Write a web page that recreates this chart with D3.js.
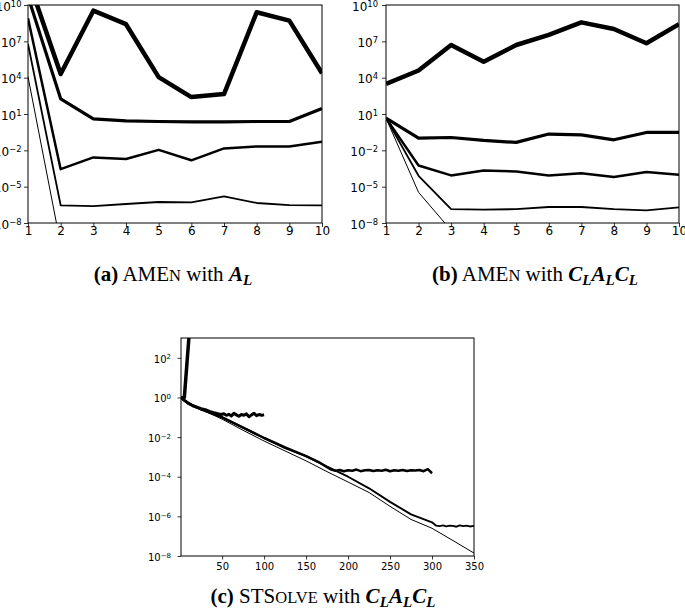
<!DOCTYPE html>
<html><head><meta charset="utf-8">
<script src="https://cdn.jsdelivr.net/npm/d3@7"></script>
<style>body{margin:0;background:#fff}svg{display:block}</style>
</head><body>
<svg id="chart" width="685" height="615"></svg>
<script>
// ---------- DATA ----------
const amenIters = [1, 2, 3, 4, 5, 6, 7, 8, 9, 10];
// (a) AMEn with A_L  (thickest -> thinnest)
const aRank1 = [1.5e12, 2.0e4, 3.4e9, 2.6e8, 1.1e4, 2.5e2, 4.4e2, 2.5e9, 5.1e8, 2.3e4];
const aRank2 = [5e10, 1.8e2, 4.0, 2.75, 2.4, 2.25, 2.25, 2.4, 2.4, 28];
const aRank3 = [8e8, 2.8e-4, 2.6e-3, 1.9e-3, 1.1e-2, 1.5e-3, 1.45e-2, 2.1e-2, 2.1e-2, 5.1e-2];
const aRank4 = [6e6, 2.9e-7, 2.5e-7, 3.7e-7, 5.4e-7, 5.0e-7, 1.6e-6, 4.5e-7, 3.0e-7, 2.9e-7];
const aRank5 = [1.2e4, 1.6e-10, 1e-11, 1e-11, 1e-11, 1e-11, 1e-11, 1e-11, 1e-11, 1e-11];
// (b) AMEn with C_L A_L C_L
const bRank1 = [3.1e3, 3.9e4, 5.0e6, 2.1e5, 5.0e6, 3.4e7, 3.7e8, 1.05e8, 6.9e6, 2.6e8];
const bRank2 = [4.6, 0.10, 0.115, 0.066, 0.045, 0.22, 0.19, 0.074, 0.30, 0.30];
const bRank3 = [4.6, 5.6e-4, 8.5e-5, 2.2e-4, 1.8e-4, 8.5e-5, 1.3e-4, 6.2e-5, 1.6e-4, 9.5e-5];
const bRank4 = [4.6, 7.9e-5, 1.4e-7, 1.26e-7, 1.4e-7, 2.1e-7, 2.1e-7, 1.4e-7, 1.1e-7, 1.95e-7];
const bRank5 = [4.6, 3.4e-6, 2.5e-9, 2e-9, 2e-9, 2e-9, 2e-9, 2e-9, 2e-9, 2e-9];
// (c) STSolve with C_L A_L C_L
const cIters1 = [1, 3, 5, 12];
const cRank1 = [1.0, 0.95, 1.0, 8e3];
const cIters2 = [1, 5, 10, 15, 20, 25, 30, 35, 40, 43, 46, 49, 52, 55, 58, 61, 64, 67, 70, 73, 76, 79, 82, 85, 88, 91, 94, 97, 100];
const cRank2 = [1.0, 0.71, 0.50, 0.38, 0.32, 0.27, 0.24, 0.20, 0.17, 0.16, 0.145, 0.138, 0.15, 0.126, 0.141, 0.117, 0.158, 0.132, 0.112, 0.138, 0.126, 0.148, 0.107, 0.132, 0.158, 0.12, 0.138, 0.126, 0.132];
const cIters3 = [1, 10, 25, 50, 75, 100, 125, 150, 165, 175, 180, 185, 190, 195, 200, 205, 210, 215, 220, 225, 230, 235, 240, 245, 250, 255, 260, 265, 270, 275, 280, 285, 290, 295, 300];
const cRank3 = [1.0, 0.5, 0.25, 0.1, 0.03, 9e-3, 3e-3, 1.1e-3, 5.5e-4, 3e-4, 2.3e-4, 2.0e-4, 2.2e-4, 1.9e-4, 2.1e-4, 2.0e-4, 2.3e-4, 1.9e-4, 2.1e-4, 2.2e-4, 1.95e-4, 2.1e-4, 2.0e-4, 2.25e-4, 1.9e-4, 2.1e-4, 2.0e-4, 2.2e-4, 1.95e-4, 2.1e-4, 2.05e-4, 2.2e-4, 1.9e-4, 2.4e-4, 1.5e-4];
const cIters4 = [1, 10, 25, 50, 75, 100, 125, 150, 175, 200, 225, 250, 275, 300, 305, 309, 313, 317, 321, 325, 329, 333, 337, 341, 345, 350];
const cRank4 = [1.0, 0.5, 0.25, 0.1, 0.03, 9e-3, 2.8e-3, 1.1e-3, 3.2e-4, 1e-4, 2.6e-5, 5.4e-6, 1.26e-6, 5e-7, 3.4e-7, 3.2e-7, 3.5e-7, 3.1e-7, 3.4e-7, 3.3e-7, 3.0e-7, 3.5e-7, 3.2e-7, 3.4e-7, 3.1e-7, 3.3e-7];
const cIters5 = [1, 10, 25, 50, 75, 100, 125, 150, 175, 200, 225, 250, 275, 300, 325, 350];
const cRank5 = [1.0, 0.5, 0.25, 0.08, 0.022, 6.3e-3, 2e-3, 6.3e-4, 1.8e-4, 5.4e-5, 1.6e-5, 3.2e-6, 7e-7, 2.5e-7, 6e-8, 1.4e-8];
const amenTicksY = [1e10, 1e7, 1e4, 1e1, 1e-2, 1e-5, 1e-8];
const stsTicksY = [1e2, 1e0, 1e-2, 1e-4, 1e-6, 1e-8];
const stsTicksX = [50, 100, 150, 200, 250, 300, 350];

// ---------- DRAW ----------
const svg = d3.select("#chart");
const lineWidths = [4.5, 3.2, 2.5, 1.8, 1.0];
const cWidths = [3.5, 3.0, 2.5, 1.9, 1.0];

function supLabel(sel, fs) {
  sel.each(function(d) {
    const t = d3.select(this);
    const e = Math.round(Math.log10(d));
    t.text(null);
    t.append("tspan").text("10");
    t.append("tspan").attr("dy", "-0.45em").attr("font-size", (fs * 0.7) + "px")
      .text(e < 0 ? "\u2212" + (-e) : String(e));
  });
}

function panel(cfg, id) {
  const x = d3.scaleLinear().domain(cfg.xDomain).range([cfg.left, cfg.right]);
  const y = d3.scaleLog().domain(cfg.yDomain).range([cfg.bottom, cfg.top]);
  svg.append("clipPath").attr("id", id).append("rect")
    .attr("x", cfg.left).attr("y", cfg.top)
    .attr("width", cfg.right - cfg.left).attr("height", cfg.bottom - cfg.top);
  const g = svg.append("g").attr("clip-path", `url(#${id})`);
  const line = d3.line().x(d => x(d[0])).y(d => y(d[1]));
  cfg.series.forEach((s, i) => {
    g.append("path").attr("d", line(s.xs.map((v, k) => [v, s.ys[k]])))
      .attr("fill", "none").attr("stroke", "#000").attr("stroke-width", s.w)
      .attr("stroke-linejoin", "round").attr("stroke-linecap", "butt");
  });
  // axes
  const ax = svg.append("g").attr("transform", `translate(0,${cfg.bottom})`)
    .call(d3.axisBottom(x).tickValues(cfg.xTicks).tickSize(cfg.tick).tickFormat(d3.format("d")));
  ax.select(".domain").remove();
  ax.selectAll("text").attr("y", cfg.xLabY).attr("dy", null)
    .attr("font-family", "DejaVu Sans").attr("font-size", cfg.fs + "px").attr("fill", "#000");
  ax.selectAll("line").attr("stroke", "#000").attr("stroke-width", 0.8);
  const ay = svg.append("g").attr("transform", `translate(${cfg.left},0)`)
    .call(d3.axisLeft(y).tickValues(cfg.yTicks).tickSize(cfg.tick).tickPadding(cfg.yPad));
  ay.select(".domain").remove();
  ay.selectAll("line").attr("stroke", "#000").attr("stroke-width", 0.8);
  ay.selectAll("text").attr("dy", "0.42em")
    .attr("font-family", "DejaVu Sans").attr("font-size", cfg.fs + "px").attr("fill", "#000")
    .call(supLabel, cfg.fs);
  svg.append("rect").attr("x", cfg.left).attr("y", cfg.top)
    .attr("width", cfg.right - cfg.left).attr("height", cfg.bottom - cfg.top)
    .attr("fill", "none").attr("stroke", "#000").attr("stroke-width", 1);
}

const aSeries = [aRank1, aRank2, aRank3, aRank4, aRank5].map((ys, i) => ({xs: amenIters, ys, w: lineWidths[i]}));
const bSeries = [bRank1, bRank2, bRank3, bRank4, bRank5].map((ys, i) => ({xs: amenIters, ys, w: lineWidths[i]}));
const cSeries = [[cIters1, cRank1], [cIters2, cRank2], [cIters3, cRank3], [cIters4, cRank4], [cIters5, cRank5]]
  .map((p, i) => ({xs: p[0], ys: p[1], w: cWidths[i]}));

panel({left: 28, right: 322, top: 5, bottom: 223, xDomain: [1, 10], yDomain: [1e-8, 1e10],
  xTicks: amenIters, yTicks: amenTicksY, tick: 4, yPad: 2.5, fs: 12, xLabY: 12, series: aSeries}, "clipA");
panel({left: 386, right: 679, top: 5, bottom: 223, xDomain: [1, 10], yDomain: [1e-8, 1e10],
  xTicks: amenIters, yTicks: amenTicksY, tick: 4, yPad: 4, fs: 12, xLabY: 12, series: bSeries}, "clipB");
panel({left: 181, right: 474, top: 338, bottom: 556, xDomain: [1, 350], yDomain: [1e-8, 1e3],
  xTicks: stsTicksX, yTicks: stsTicksY, tick: 3.5, yPad: 6.5, fs: 10, xLabY: 14, series: cSeries}, "clipC");

// ---------- CAPTIONS ----------
function caption(cx, cy, label, word, smallPart, capsPart, mathParts) {
  const t = svg.append("text").attr("x", cx).attr("y", cy).attr("text-anchor", "middle")
    .attr("font-family", "Liberation Serif, Times New Roman, serif").attr("font-size", "21px").attr("fill", "#000");
  t.append("tspan").attr("font-weight", "bold").text("(" + label + ")");
  t.append("tspan").text(" " + capsPart);
  t.append("tspan").attr("font-size", "16.5px").text(smallPart);
  t.append("tspan").text(" with ");
  mathParts.forEach(m => {
    t.append("tspan").attr("font-weight", "bold").attr("font-style", "italic").text(m);
    t.append("tspan").attr("font-weight", "bold").attr("font-style", "italic")
      .attr("font-size", "15px").attr("dy", 4).text("L");
    t.append("tspan").attr("font-size", "1px").attr("dy", -4).text("\u200a");
  });
}
caption(173, 281, "a", "", "N", "AME", ["A"]);
caption(535, 281, "b", "", "N", "AME", ["C", "A", "C"]);
caption(323, 603, "c", "", "OLVE", "STS", ["C", "A", "C"]);
</script>
</body></html>
